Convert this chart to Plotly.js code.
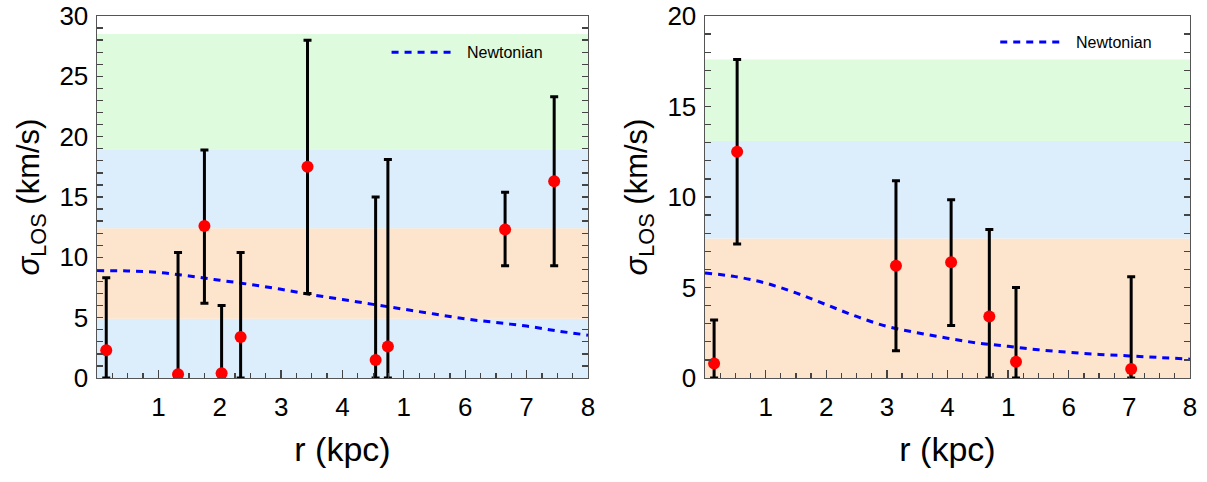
<!DOCTYPE html>
<html>
<head>
<meta charset="utf-8">
<script src="https://cdn.plot.ly/plotly-3.0.1.min.js"></script>
<style>html,body{margin:0;padding:0;background:#fff;}#plot{width:1207px;height:482px;}</style>
</head>
<body>
<div id="plot"></div>
<script>
// ---- Left panel data ----
const leftR      = [0.15, 1.32, 1.75, 2.03, 2.34, 3.43, 4.54, 4.74, 6.65, 7.45];
const leftSigma  = [2.3, 0.3, 12.6, 0.4, 3.4, 17.5, 1.5, 2.6, 12.3, 16.3];
const leftUpper  = [8.3, 10.4, 18.9, 6.0, 10.4, 28.0, 15.0, 18.1, 15.4, 23.3];
const leftLower  = [0, 0, 6.2, 0, 0, 7.0, 0, 0, 9.3, 9.3];
const leftNewtR  = [0, 0.5, 1, 1.5, 2, 2.5, 3, 3.5, 4, 4.5, 5, 5.5, 6, 6.5, 7, 7.5, 8];
const leftNewtS  = [8.9, 8.87, 8.75, 8.45, 8.1, 7.75, 7.35, 6.9, 6.5, 6.1, 5.7, 5.3, 4.9, 4.6, 4.3, 3.9, 3.55];
const leftBands  = [[0, 4.9, 'blue'], [4.9, 12.4, 'orange'], [12.4, 18.9, 'blue'], [18.9, 28.5, 'green']];

// ---- Right panel data ----
const rightR     = [0.15, 0.53, 3.15, 4.06, 4.69, 5.13, 7.03];
const rightSigma = [0.8, 12.5, 6.2, 6.4, 3.4, 0.9, 0.5];
const rightUpper = [3.2, 17.6, 10.9, 9.85, 8.2, 5.0, 5.6];
const rightLower = [0, 7.4, 1.5, 2.9, 0, 0, 0];
const rightNewtR = [0, 0.5, 1, 1.5, 2, 2.5, 3, 3.5, 4, 4.5, 5, 5.5, 6, 6.5, 7, 7.5, 8];
const rightNewtS = [5.8, 5.6, 5.24, 4.7, 4.05, 3.4, 2.85, 2.5, 2.2, 1.93, 1.75, 1.56, 1.42, 1.3, 1.22, 1.13, 1.04];
const rightBands = [[0, 7.7, 'orange'], [7.7, 13.1, 'blue'], [13.1, 17.6, 'green']];

// ---- Axis labels ----
const xTickVals  = [1, 2, 3, 4, 5, 6, 7, 8];
const xTickText  = ['1', '2', '3', '4', '1', '6', '7', '8'];
const leftYTicks  = [0, 5, 10, 15, 20, 25, 30];
const rightYTicks = [0, 5, 10, 15, 20];
const xTitle = 'r (kpc)';
const yTitle = '<i>σ</i><sub>LOS</sub> (km/s)';
const legendName = 'Newtonian';

const bandColors = {green: 'rgb(223,251,222)', blue: 'rgb(220,237,252)', orange: 'rgb(253,228,204)'};
const FONT = 'Liberation Sans, Arial, Helvetica, sans-serif';

function panelTraces(xa, ya, r, s, up, lo, nr, ns) {
  const plus = up.map((u, i) => u - s[i]);
  const minus = lo.map((l, i) => s[i] - l);
  return [
    {x: nr, y: ns, xaxis: xa, yaxis: ya, type: 'scatter', mode: 'lines', name: legendName,
     line: {color: '#0000ff', width: 3, dash: '7px,6px', shape: 'spline'}, showlegend: false, hoverinfo: 'skip'},
    {x: r, y: s, xaxis: xa, yaxis: ya, type: 'scatter', mode: 'markers',
     marker: {color: '#ff0000', size: 12},
     error_y: {type: 'data', symmetric: false, array: plus, arrayminus: minus, color: '#000', thickness: 3, width: 4},
     showlegend: false, cliponaxis: true}
  ];
}

const data = [
  ...panelTraces('x', 'y', leftR, leftSigma, leftUpper, leftLower, leftNewtR, leftNewtS),
  ...panelTraces('x2', 'y2', rightR, rightSigma, rightUpper, rightLower, rightNewtR, rightNewtS)
];

function bandShapes(bands, xref, yref) {
  return bands.map(b => ({type: 'rect', xref: xref, yref: yref, x0: 0, x1: 8, y0: b[0], y1: b[1],
    fillcolor: bandColors[b[2]], line: {width: 0}, layer: 'below'}));
}

function xAxis(domain, anchor) {
  return {domain: domain, anchor: anchor, range: [0, 8], showgrid: false, zeroline: false,
    showline: true, linecolor: '#555', linewidth: 1.5, mirror: true,
    ticks: 'inside', ticklen: 8, tickwidth: 1.3, tickcolor: '#444',
    tickmode: 'array', tickvals: xTickVals, ticktext: xTickText,
    minor: {dtick: 0.25, ticks: 'inside', ticklen: 5, tickwidth: 1.3, tickcolor: '#444', showgrid: false},
    tickfont: {family: FONT, size: 26, color: '#000'}, ticklabelstandoff: 5,
    title: {text: xTitle, font: {family: FONT, size: 34, color: '#000'}, standoff: 16}};
}
function yAxis(domain, anchor, maxv, ticks) {
  return {domain: domain, anchor: anchor, range: [0, maxv], showgrid: false, zeroline: false,
    showline: true, linecolor: '#555', linewidth: 1.5, mirror: 'ticks',
    ticks: 'inside', ticklen: 6, tickwidth: 1.3, tickcolor: '#444',
    tickmode: 'array', tickvals: ticks,
    minor: {dtick: 1, ticks: 'inside', ticklen: 6, tickwidth: 1.3, tickcolor: '#444', showgrid: false},
    tickfont: {family: FONT, size: 26, color: '#000'}, ticklabelstandoff: 2,
    title: {text: yTitle, font: {family: FONT, size: 31, color: '#000'}, standoff: 10}};
}

const legendAnn = [
  {xref: 'x', yref: 'y', xa: 4.8, xb: 5.78, y: 27.0, tx: 6.0},
  {xref: 'x2', yref: 'y2', xa: 4.87, xb: 5.86, y: 18.56, tx: 6.08}
];
const shapes = [
  ...bandShapes(leftBands, 'x', 'y'),
  ...bandShapes(rightBands, 'x2', 'y2'),
  ...legendAnn.map(l => ({type: 'line', xref: l.xref, yref: l.yref, x0: l.xa, x1: l.xb, y0: l.y, y1: l.y,
    line: {color: '#0000ff', width: 3, dash: '7px,6px'}, layer: 'above'}))
];
const annotations = legendAnn.map(l => ({xref: l.xref, yref: l.yref, x: l.tx, y: l.y, text: legendName,
  showarrow: false, xanchor: 'left', yanchor: 'middle', font: {family: FONT, size: 16, color: '#000'}}));

const layout = {
  width: 1207, height: 482,
  margin: {l: 0, r: 0, t: 0, b: 0},
  paper_bgcolor: '#fff', plot_bgcolor: '#fff',
  showlegend: false,
  xaxis: xAxis([0.0804, 0.4871], 'y'),
  yaxis: yAxis([0.2158, 0.9668], 'x', 30, leftYTicks),
  xaxis2: xAxis([0.5841, 0.9859], 'y2'),
  yaxis2: yAxis([0.2158, 0.9668], 'x2', 20, rightYTicks),
  shapes: shapes,
  annotations: annotations
};

Plotly.newPlot('plot', data, layout, {displayModeBar: false, staticPlot: true});
</script>
</body>
</html>
